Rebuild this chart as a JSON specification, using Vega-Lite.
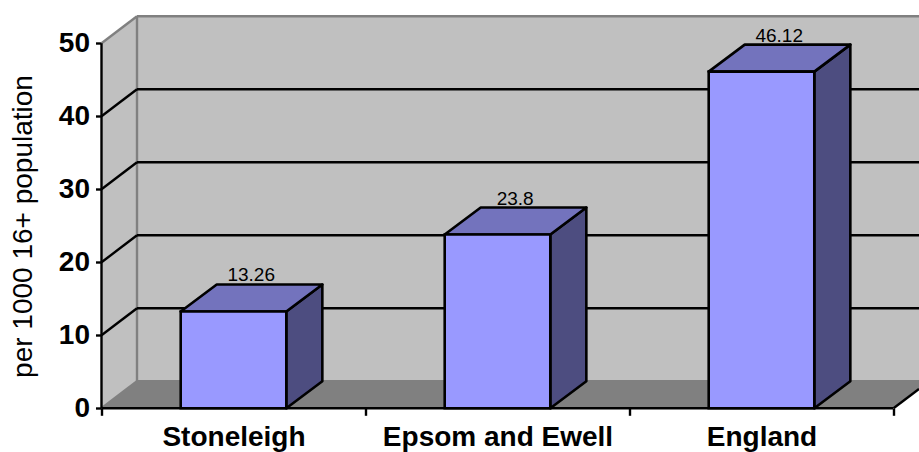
{
"$schema":"https://vega.github.io/schema/vega-lite/v6.json",
"width":817.5,"height":392.3,"autosize":{"type":"none"},
"padding":{"left":101.5,"top":16,"right":0,"bottom":43.7},
"background":"white",
"config":{"view":{"stroke":null},"font":"Liberation Sans"},
"datasets":{
"wall":[{"x":0.1345,"x2":3.0966,"y":3.7,"y2":53.74}],
"sidewall":[{"x":0,"y":0,"y2":50},{"x":0.1345,"y":3.7,"y2":53.7}],
"floor":[{"y":0,"x":0,"x2":3},{"y":3.7,"x":0.1345,"x2":3.1345}],
"grey":[
{"x":0,"y":50,"x2":0.1345,"y2":53.7},
{"x":0.1345,"y":3.7,"x2":0.1345,"y2":53.7},
{"x":0.1345,"y":53.7,"x2":3.0966,"y2":53.7},
{"x":0.1345,"y":3.7,"x2":3.0966,"y2":3.7},
{"x":0,"y":0,"x2":0.1345,"y2":3.7}],
"black":[
{"x":0,"y":10,"x2":0.1345,"y2":13.7},
{"x":0,"y":20,"x2":0.1345,"y2":23.7},
{"x":0,"y":30,"x2":0.1345,"y2":33.7},
{"x":0,"y":40,"x2":0.1345,"y2":43.7},
{"x":0.1345,"y":13.7,"x2":3.0966,"y2":13.7},
{"x":0.1345,"y":23.7,"x2":3.0966,"y2":23.7},
{"x":0.1345,"y":33.7,"x2":3.0966,"y2":33.7},
{"x":0.1345,"y":43.7,"x2":3.0966,"y2":43.7},
{"x":0,"y":0,"x2":0,"y2":50},
{"x":0,"y":0,"x2":3,"y2":0},
{"x":3,"y":0,"x2":3.0966,"y2":2.64}],
"labels":[
{"name":"Stoneleigh","x":0.567,"y":16.96,"value":"13.26"},
{"name":"Epsom and Ewell","x":1.567,"y":27.5,"value":"23.8"},
{"name":"England","x":2.567,"y":49.82,"value":"46.12"}],
"side":[
{"name":"Stoneleigh","x":0.7,"y":0,"y2":13.26},
{"name":"Stoneleigh","x":0.8365,"y":3.7,"y2":16.96},
{"name":"Epsom and Ewell","x":1.7,"y":0,"y2":23.8},
{"name":"Epsom and Ewell","x":1.8365,"y":3.7,"y2":27.5},
{"name":"England","x":2.7,"y":0,"y2":46.12},
{"name":"England","x":2.8365,"y":3.7,"y2":49.82}],
"top":[
{"name":"Stoneleigh","y":13.26,"x":0.3,"x2":0.7},
{"name":"Stoneleigh","y":16.96,"x":0.4365,"x2":0.8365},
{"name":"Epsom and Ewell","y":23.8,"x":1.3,"x2":1.7},
{"name":"Epsom and Ewell","y":27.5,"x":1.4365,"x2":1.8365},
{"name":"England","y":46.12,"x":2.3,"x2":2.7},
{"name":"England","y":49.82,"x":2.4365,"x2":2.8365}],
"front":[
{"name":"Stoneleigh","x":0.3,"x2":0.7,"y":0,"y2":13.26},
{"name":"Epsom and Ewell","x":1.3,"x2":1.7,"y":0,"y2":23.8},
{"name":"England","x":2.3,"x2":2.7,"y":0,"y2":46.12}]
},
"encoding":{
"x":{"field":"x","type":"quantitative","scale":{"domain":[0,3.0966],"nice":false,"zero":false},
"axis":{"title":null,"values":[0,1,2,3],"grid":false,"domain":false,"tickColor":"black","tickWidth":2.4,"tickSize":7,
"labelExpr":"datum.value==0?'Stoneleigh':datum.value==1?'Epsom and Ewell':datum.value==2?'England':''",
"labelOffset":132,"labelFontSize":28,"labelFontWeight":"bold","labelColor":"black","labelPadding":8,"labelLimit":400,"labelFlush":false,"labelOverlap":false,"labelBound":false}},
"y":{"field":"y","type":"quantitative","scale":{"domain":[0,53.74],"nice":false,"zero":false},
"axis":{"title":"per 1000 16+ population","values":[0,10,20,30,40,50],"grid":false,"domain":false,"tickColor":"black","tickWidth":2.4,"tickSize":6,
"labelFontSize":28,"labelFontWeight":"bold","labelColor":"black","labelPadding":6,"labelFlush":false,"labelOverlap":false,"labelBound":false,
"titleFontSize":28,"titleFontWeight":"normal","titleColor":"black","titleX":-64,"titleY":210,"titleAnchor":"middle"}}
},
"layer":[
{"data":{"name":"wall"},"mark":{"type":"rect","fill":"#c0c0c0"},"encoding":{"x2":{"field":"x2"},"y2":{"field":"y2"}}},
{"data":{"name":"sidewall"},"mark":{"type":"area","orient":"vertical","fill":"#c0c0c0"},"encoding":{"y2":{"field":"y2"}}},
{"data":{"name":"floor"},"mark":{"type":"area","orient":"horizontal","fill":"#808080","clip":true},"encoding":{"x2":{"field":"x2"}}},
{"data":{"name":"grey"},"mark":{"type":"rule","stroke":"#808080","strokeWidth":2.4},"encoding":{"x2":{"field":"x2"},"y2":{"field":"y2"}}},
{"data":{"name":"black"},"mark":{"type":"rule","stroke":"black","strokeWidth":2.4,"clip":false},"encoding":{"x2":{"field":"x2"},"y2":{"field":"y2"}}},
{"data":{"name":"labels"},"mark":{"type":"text","fontSize":19,"color":"black","baseline":"alphabetic","align":"center","dy":-3},"encoding":{"text":{"field":"value"}}},
{"data":{"name":"side"},"mark":{"type":"area","orient":"vertical","fill":"#4d4d80","stroke":"black","strokeWidth":2.6,"strokeJoin":"round"},"encoding":{"y2":{"field":"y2"},"detail":{"field":"name"}}},
{"data":{"name":"top"},"mark":{"type":"area","orient":"horizontal","fill":"#7373bd","stroke":"black","strokeWidth":2.6,"strokeJoin":"round"},"encoding":{"x2":{"field":"x2"},"detail":{"field":"name"}}},
{"data":{"name":"front"},"mark":{"type":"rect","fill":"#9999ff","stroke":"black","strokeWidth":2.6},"encoding":{"x2":{"field":"x2"},"y2":{"field":"y2"}}}
]
}
